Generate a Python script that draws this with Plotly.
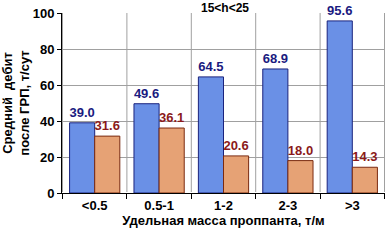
import plotly.graph_objects as go

categories = ["<0.5", "0.5-1", "1-2", "2-3", ">3"]
blue_values = [39.0, 49.6, 64.5, 68.9, 95.6]
red_values = [31.6, 36.1, 20.6, 18.0, 14.3]
y_ticks = [0, 20, 40, 60, 80, 100]

fig = go.Figure()
fig.add_trace(go.Bar(
    x=categories, y=blue_values,
    marker=dict(color="#6a90e6", line=dict(color="#1a237e", width=1)),
    text=[f"{v:.1f}" for v in blue_values], textposition="outside",
    textfont=dict(family="Liberation Sans", size=13, color="#1a1a80", weight="bold"),
    cliponaxis=False,
))
fig.add_trace(go.Bar(
    x=categories, y=red_values,
    marker=dict(color="#e6a275", line=dict(color="#7a2a10", width=1)),
    text=[f"{v:.1f}" for v in red_values], textposition="outside",
    textfont=dict(family="Liberation Sans", size=13, color="#8b1a1a", weight="bold"),
    cliponaxis=False,
))

fig.update_layout(
    width=386, height=241,
    margin=dict(l=62, r=1, t=13, b=48, autoexpand=False),
    paper_bgcolor="white", plot_bgcolor="white",
    showlegend=False,
    barmode="group", bargap=0.22, bargroupgap=0,
    font=dict(family="Liberation Sans", color="black"),
    uniformtext=dict(minsize=13, mode="show"),
    xaxis=dict(
        automargin=False,
        showline=True, linecolor="black", linewidth=1,
        showgrid=False, ticks="outside", tickson="boundaries", ticklen=5, tickcolor="black",
        tickfont=dict(size=13, weight="bold"),
        title=dict(text="Удельная масса проппанта, т/м", font=dict(size=13, weight="bold"), standoff=0),
    ),
    yaxis=dict(
        automargin=False,
        range=[0, 100], tickvals=y_ticks,
        showline=True, linecolor="black", linewidth=1,
        showgrid=True, gridcolor="#a0a0a0", gridwidth=1,
        ticks="outside", ticklen=4, tickcolor="black",
        tickfont=dict(size=13, weight="bold"),
        title=dict(text="Средний  дебит<br>после ГРП, т/сут", font=dict(size=13, weight="bold"), standoff=2),
    ),
    annotations=[dict(
        text="15<h<25", x=0.505, y=1.0, xref="paper", yref="paper",
        xanchor="center", yanchor="bottom", showarrow=False, yshift=-3, borderpad=0,
        font=dict(size=12, weight="bold", color="black"),
    )],
)

# vertical gridlines at category boundaries
for i in range(len(categories) + 1):
    fig.add_shape(type="line", xref="x", yref="paper", x0=i - 0.5, x1=i - 0.5, y0=0, y1=1,
                  line=dict(color="#a0a0a0", width=1), layer="below")

fig.write_html("out.html", config={"displayModeBar": False},
               post_script="document.body.style.margin='0';document.body.style.overflow='hidden';")
